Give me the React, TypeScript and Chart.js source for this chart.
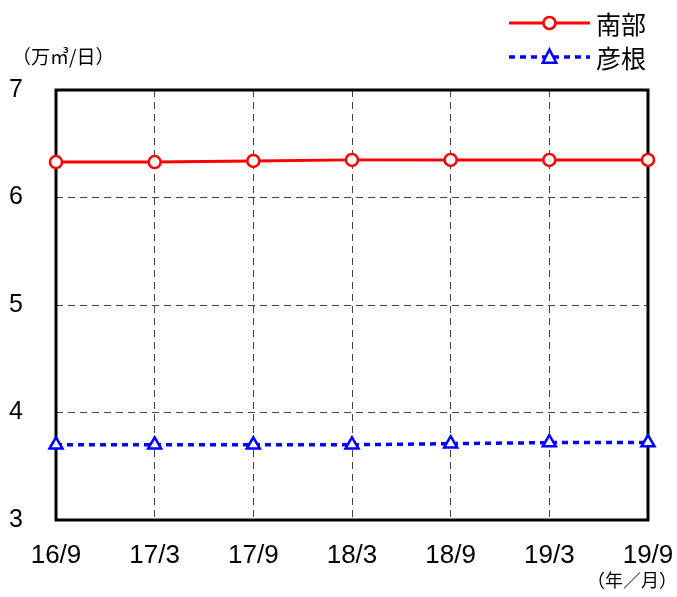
import React, { useEffect, useRef } from "react";
import { Chart, registerables } from "chart.js";

Chart.register(...registerables);

const categories = ["16/9", "17/3", "17/9", "18/3", "18/9", "19/3", "19/9"];
const seriesNames = ["南部", "彦根"];
const nanbu = [6.33, 6.33, 6.34, 6.35, 6.35, 6.35, 6.35];
const hikone = [3.7, 3.7, 3.7, 3.7, 3.71, 3.72, 3.72];
const yTicks = [3, 4, 5, 6, 7];
const yTitle = "（万㎥/日）";
const xTitle = "（年／月）";

const NUM_FONT = "'Liberation Sans', Arial, sans-serif";
const CJK_FONT = "'Noto Sans CJK JP', sans-serif";

const framePlugin = {
  id: "frame",
  beforeDatasetsDraw(chart: any) {
    const { ctx, chartArea } = chart;
    ctx.save();
    ctx.strokeStyle = "#000";
    ctx.lineWidth = 3;
    ctx.setLineDash([]);
    ctx.strokeRect(chartArea.left, chartArea.top, chartArea.right - chartArea.left, chartArea.bottom - chartArea.top);
    ctx.restore();
  },
};

const textPlugin = {
  id: "texts",
  afterDraw(chart: any) {
    const { ctx } = chart;
    ctx.save();
    ctx.fillStyle = "#000";
    ctx.font = `19px ${CJK_FONT}`;
    ctx.textBaseline = "middle";
    ctx.textAlign = "left";
    ctx.fillText(yTitle, 12, 57);
    ctx.font = `18px ${CJK_FONT}`;
    ctx.textAlign = "right";
    ctx.fillText(xTitle, 677, 580);

    // legend
    const ys = [23, 57];
    chart.data.datasets.forEach((ds: any, i: number) => {
      const y = ys[i];
      const x0 = 509;
      const x1 = 590;
      ctx.save();
      ctx.strokeStyle = ds.borderColor;
      ctx.lineWidth = ds.borderWidth;
      ctx.setLineDash(ds.borderDash || []);
      ctx.beginPath();
      ctx.moveTo(x0, y);
      ctx.lineTo(x1, y);
      ctx.stroke();
      ctx.restore();
      ctx.save();
      ctx.setLineDash([]);
      ctx.lineWidth = ds.pointBorderWidth;
      ctx.strokeStyle = ds.pointBorderColor;
      ctx.fillStyle = ds.pointBackgroundColor;
      const cx = (x0 + x1) / 2;
      if (ds.pointStyle === "circle") {
        ctx.beginPath();
        ctx.arc(cx, y, ds.pointRadius, 0, Math.PI * 2);
        ctx.fill();
        ctx.stroke();
      } else {
        const r = ds.pointRadius;
        ctx.beginPath();
        ctx.moveTo(cx, y - r);
        ctx.lineTo(cx + r * 0.9, y + r * 0.75);
        ctx.lineTo(cx - r * 0.9, y + r * 0.75);
        ctx.closePath();
        ctx.fill();
        ctx.stroke();
      }
      ctx.restore();
      ctx.fillStyle = "#000";
      ctx.font = `25px ${CJK_FONT}`;
      ctx.textAlign = "left";
      ctx.textBaseline = "middle";
      ctx.fillText(ds.label, 596, y + 1);
    });
    ctx.restore();
  },
};

export default function App() {
  const ref = useRef<HTMLCanvasElement>(null);
  useEffect(() => {
    document.body.style.margin = "0";
    const canvas = ref.current!;
    const chart = new Chart(canvas, {
      type: "line",
      data: {
        labels: categories,
        datasets: [
          {
            label: seriesNames[0],
            data: nanbu,
            borderColor: "#ff0000",
            borderWidth: 3,
            pointStyle: "circle",
            pointRadius: 6,
            pointBorderWidth: 2.5,
            pointBorderColor: "#ff0000",
            pointBackgroundColor: "#ffffff",
            clip: false as any,
          } as any,
          {
            label: seriesNames[1],
            data: hikone,
            borderColor: "#0000ff",
            borderWidth: 3.5,
            borderDash: [6, 5],
            pointStyle: "triangle",
            pointRadius: 7.5,
            pointBorderWidth: 2.5,
            pointBorderColor: "#0000ff",
            pointBackgroundColor: "#ffffff",
            clip: false as any,
          } as any,
        ],
      },
      options: {
        responsive: false,
        animation: false,
        devicePixelRatio: 1,
        layout: { padding: { left: 0, right: 29, top: 90, bottom: 0 } },
        plugins: { legend: { display: false }, tooltip: { enabled: false } },
        scales: {
          x: {
            type: "category",
            offset: false,
            afterFit(scale: any) {
              scale.height = 77;
              scale.paddingLeft = 0;
              scale.paddingRight = 0;
            },
            grid: {
              drawTicks: false,
              color: (c: any) => (c.index === 0 || c.index === categories.length - 1 ? "rgba(0,0,0,0)" : "#444"),
              lineWidth: 1,
            },
            border: { display: false, dash: [7, 5] },
            ticks: { color: "#000", font: { family: NUM_FONT, size: 26 }, padding: 20, maxRotation: 0, autoSkip: false },
          },
          y: {
            min: yTicks[0],
            max: yTicks[yTicks.length - 1],
            afterFit(scale: any) {
              scale.width = 56;
              scale.paddingTop = 0;
              scale.paddingBottom = 0;
            },
            afterBuildTicks(scale: any) {
              scale.ticks = yTicks.map((v) => ({ value: v }));
            },
            grid: {
              drawTicks: false,
              color: (c: any) => (c.tick && (c.tick.value === 3 || c.tick.value === 7) ? "rgba(0,0,0,0)" : "#444"),
              lineWidth: 1,
            },
            border: { display: false, dash: [7, 5] },
            ticks: { color: "#000", font: { family: NUM_FONT, size: 25 }, padding: 33 },
          },
        },
      },
      plugins: [framePlugin, textPlugin],
    });
    return () => chart.destroy();
  }, []);
  return <canvas ref={ref} width={677} height={597} style={{ display: "block", width: 677, height: 597 }} />;
}
